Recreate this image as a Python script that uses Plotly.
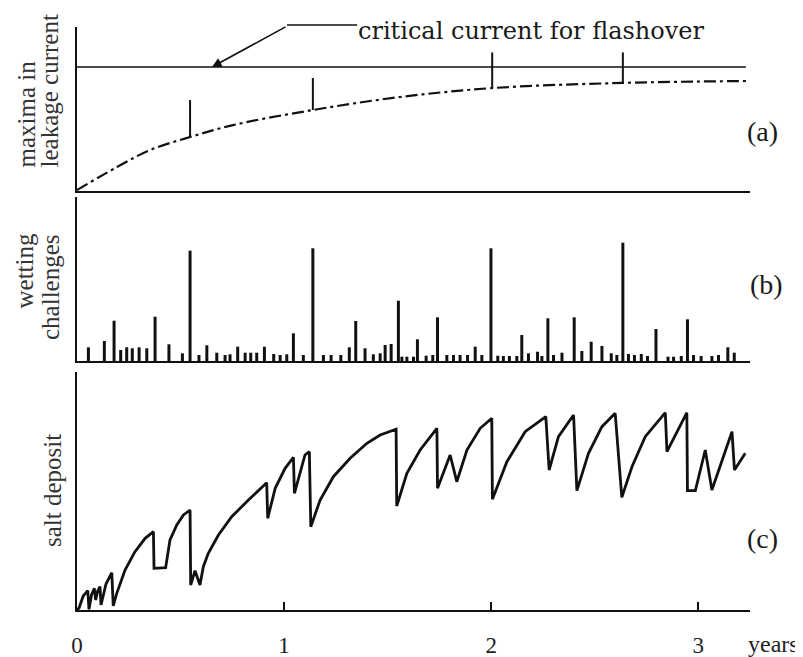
import plotly.graph_objects as go

# ---------------- Panel (a): maxima in leakage current ----------------
years_a = [0.000, 0.193, 0.353, 0.546, 0.754, 1.140, 1.560, 2.010, 2.633, 3.261]
leak_max = [0.006, 0.146, 0.250, 0.329, 0.402, 0.494, 0.573, 0.628, 0.659, 0.671]
crit_years = [0.0, 3.23]
crit_level = [0.756, 0.756]
spike_a_x = [0.546, 1.139, 2.005, 2.636]
spike_a_base = [0.329, 0.494, 0.628, 0.659]
spike_a_top = [0.555, 0.689, 0.845, 0.845]

# ---------------- Panel (b): wetting challenges ----------------
wet_x = [0.055, 0.132, 0.179, 0.211, 0.240, 0.267, 0.300, 0.337, 0.377, 0.444,
         0.509, 0.546, 0.589, 0.627, 0.675, 0.715, 0.739, 0.776, 0.812, 0.839,
         0.868, 0.905, 0.950, 0.981, 1.013, 1.045, 1.093, 1.139, 1.190, 1.227,
         1.274, 1.315, 1.346, 1.391, 1.431, 1.464, 1.488, 1.517, 1.552, 1.569,
         1.593, 1.625, 1.644, 1.686, 1.718, 1.741, 1.786, 1.818, 1.850, 1.886,
         1.923, 1.955, 1.999, 2.032, 2.059, 2.088, 2.124, 2.148, 2.180, 2.224,
         2.245, 2.274, 2.301, 2.342, 2.401, 2.438, 2.483, 2.535, 2.580, 2.607,
         2.636, 2.663, 2.692, 2.725, 2.755, 2.796, 2.854, 2.881, 2.918, 2.948,
         2.977, 3.014, 3.066, 3.098, 3.143, 3.174]
wet_h = [13.7, 20.0, 40.3, 11.0, 13.7, 12.7, 13.7, 12.7, 44.3, 16.7,
         7.7, 110.3, 6.0, 15.7, 8.3, 6.0, 6.7, 14.3, 8.3, 8.3,
         8.3, 14.3, 7.0, 6.0, 6.7, 27.7, 6.0, 112.7, 6.0, 6.0,
         6.0, 13.7, 40.0, 12.7, 6.7, 7.7, 16.0, 17.0, 60.3, 4.3,
         4.3, 4.3, 21.7, 5.3, 6.0, 43.7, 6.0, 6.0, 6.0, 6.0,
         14.3, 6.0, 112.7, 5.3, 5.0, 5.0, 5.0, 26.0, 7.7, 9.3,
         5.0, 42.7, 6.0, 8.3, 43.7, 10.0, 19.3, 15.0, 7.7, 6.0,
         118.3, 7.0, 6.0, 7.0, 5.0, 32.0, 4.3, 4.3, 5.0, 41.7,
         6.0, 5.0, 5.0, 6.0, 13.7, 8.3]

# ---------------- Panel (c): salt deposit ----------------
salt_x = [0.000, 0.010, 0.030, 0.052, 0.058, 0.070, 0.084, 0.090, 0.100, 0.111,
          0.116, 0.140, 0.168, 0.175, 0.192,
          0.232, 0.280, 0.329, 0.369, 0.372, 0.428, 0.449, 0.482, 0.514,
          0.546, 0.549, 0.570, 0.594, 0.610, 0.634, 0.683, 0.747, 0.828, 0.916, 0.921,
          0.957, 1.005, 1.045, 1.050, 1.101, 1.122, 1.129, 1.174, 1.238, 1.319,
          1.400, 1.464, 1.541, 1.544, 1.593, 1.657, 1.738, 1.741, 1.802, 1.834,
          1.883, 1.947, 2.003, 2.006, 2.076, 2.140, 2.164, 2.264, 2.280, 2.325,
          2.398, 2.414, 2.470, 2.535, 2.599, 2.631, 2.680, 2.744, 2.841, 2.849,
          2.945, 2.948, 2.986, 3.034, 3.066, 3.163, 3.175, 3.227]
salt_v = [0.0, 2.0, 14.0, 19.3, 0.7, 15.0, 21.7, 10.0, 19.0, 23.3,
          5.0, 26.0, 37.3, 4.0, 16.7,
          40.0, 58.3, 71.7, 78.3, 41.7, 42.3, 70.0, 85.0, 95.0,
          100.0, 25.0, 39.3, 25.0, 43.3, 56.7, 75.0, 93.3, 110.0, 127.3, 91.7,
          121.7, 141.7, 152.7, 116.7, 155.0, 158.3, 83.3, 110.0, 133.3, 151.7,
          166.7, 175.0, 180.7, 104.0, 136.7, 160.0, 181.7, 121.7, 155.0, 128.3,
          160.0, 181.7, 191.7, 110.7, 148.3, 170.0, 178.3, 193.3, 140.0, 173.3,
          195.0, 119.3, 156.7, 183.3, 196.7, 112.7, 143.3, 173.3, 197.3, 158.3,
          197.3, 119.3, 119.3, 160.0, 120.0, 178.3, 140.0, 156.7]

tick_vals = [0, 1, 2, 3]
tick_text = ["0", "1", "2", "3"]

INK = "#111111"
SERIF = "Liberation Serif"

fig = go.Figure()

# (a) critical line
fig.add_trace(go.Scatter(x=crit_years, y=crit_level, mode="lines",
                         line=dict(color=INK, width=1.6), xaxis="x", yaxis="y",
                         hoverinfo="skip", showlegend=False))
# (a) dash-dot curve
fig.add_trace(go.Scatter(x=years_a, y=leak_max, mode="lines",
                         line=dict(color=INK, width=2.2, dash="12px,4px,3px,4px",
                                   shape="spline"),
                         xaxis="x", yaxis="y", showlegend=False))
# (a) spikes
sx, sy = [], []
for x, b, t in zip(spike_a_x, spike_a_base, spike_a_top):
    sx += [x, x, None]
    sy += [b, t, None]
fig.add_trace(go.Scatter(x=sx, y=sy, mode="lines", line=dict(color=INK, width=2),
                         xaxis="x", yaxis="y", showlegend=False))

# (b) wetting spikes
wx, wy = [], []
for x, h in zip(wet_x, wet_h):
    wx += [x, x, None]
    wy += [0, h, None]
fig.add_trace(go.Scatter(x=wx, y=wy, mode="lines", line=dict(color=INK, width=3),
                         xaxis="x2", yaxis="y2", showlegend=False))

# (c) salt deposit
fig.add_trace(go.Scatter(x=salt_x, y=salt_v, mode="lines",
                         line=dict(color=INK, width=2.8), xaxis="x3", yaxis="y3",
                         showlegend=False))

# page offset (body margin) is 8 px; figure is sized so the plot lands
# at x 77..750, y 27..610 of the browser window
PH = 583.0

def py(ypx):
    return (610 - ypx) / PH

def px(xpx):
    return (xpx - 77) / 673.0

common_x = dict(range=[0, 3.25], showgrid=False, zeroline=False, showline=True,
                linecolor=INK, linewidth=2, domain=[0, 1])
common_y = dict(showgrid=False, zeroline=False, showline=True, linecolor=INK,
                linewidth=2, showticklabels=False, ticks="")

fig.update_layout(
    width=795, height=649,
    margin=dict(l=69, r=53, t=19, b=47, autoexpand=False),
    paper_bgcolor="white", plot_bgcolor="white",
    showlegend=False,
    xaxis=dict(common_x, anchor="y", showticklabels=False, ticks=""),
    xaxis2=dict(common_x, anchor="y2", matches="x", showticklabels=False, ticks=""),
    xaxis3=dict(common_x, anchor="y3", matches="x", tickvals=tick_vals, ticktext=tick_text,
                ticks="inside", ticklen=8, tickwidth=2, tickcolor=INK,
                tickfont=dict(family=SERIF, size=23, color="#222"),
                ticklabelstandoff=13),
    yaxis=dict(common_y, domain=[py(191), 1.0], range=[0, 1]),
    yaxis2=dict(common_y, domain=[py(361), py(197)], range=[0, 164]),
    yaxis3=dict(common_y, domain=[0, py(372)], range=[0, 238]),
)

# arrow connector
fig.add_shape(type="line", xref="x", yref="paper", x0=1.014, x1=1.353,
              y0=py(25), y1=py(25), line=dict(color=INK, width=1.6))
fig.add_annotation(x=0.652, y=0.756, xref="x", yref="y", ax=75, ay=-41,
                   text="", showarrow=True, arrowhead=2, arrowsize=1.2,
                   arrowwidth=1.6, arrowcolor=INK)

annots = [
    dict(text="critical current for flashover", x=px(356), y=py(31), xanchor="left",
         yanchor="middle", font=dict(family="DejaVu Serif", size=24, color="#1a1a1a")),
    dict(text="(a)", x=px(762), y=py(131), xanchor="center", yanchor="middle",
         font=dict(family=SERIF, size=28, color="#1a1a1a")),
    dict(text="(b)", x=px(766), y=py(284), xanchor="center", yanchor="middle",
         font=dict(family=SERIF, size=28, color="#1a1a1a")),
    dict(text="(c)", x=px(762), y=py(538), xanchor="center", yanchor="middle",
         font=dict(family=SERIF, size=28, color="#1a1a1a")),
    dict(text="years", x=px(801), y=py(644), xanchor="right", yanchor="middle",
         font=dict(family=SERIF, size=24, color="#222")),
    dict(text="maxima in", x=px(26), y=py(170), xanchor="center", yanchor="bottom",
         textangle=-90, font=dict(family=SERIF, size=25, color="#333")),
    dict(text="leakage current", x=px(49), y=py(170), xanchor="center", yanchor="bottom",
         textangle=-90, font=dict(family=SERIF, size=25, color="#333")),
    dict(text="wetting", x=px(24), y=py(232), xanchor="center", yanchor="top",
         textangle=-90, font=dict(family=SERIF, size=25, color="#333")),
    dict(text="challenges", x=px(50), y=py(232), xanchor="center", yanchor="top",
         textangle=-90, font=dict(family=SERIF, size=25, color="#333")),
    dict(text="salt deposit", x=px(52), y=py(491), xanchor="center", yanchor="middle",
         textangle=-90, font=dict(family=SERIF, size=25, color="#333")),
]
for a in annots:
    fig.add_annotation(xref="paper", yref="paper", showarrow=False, **a)

fig.write_html("out.html")
